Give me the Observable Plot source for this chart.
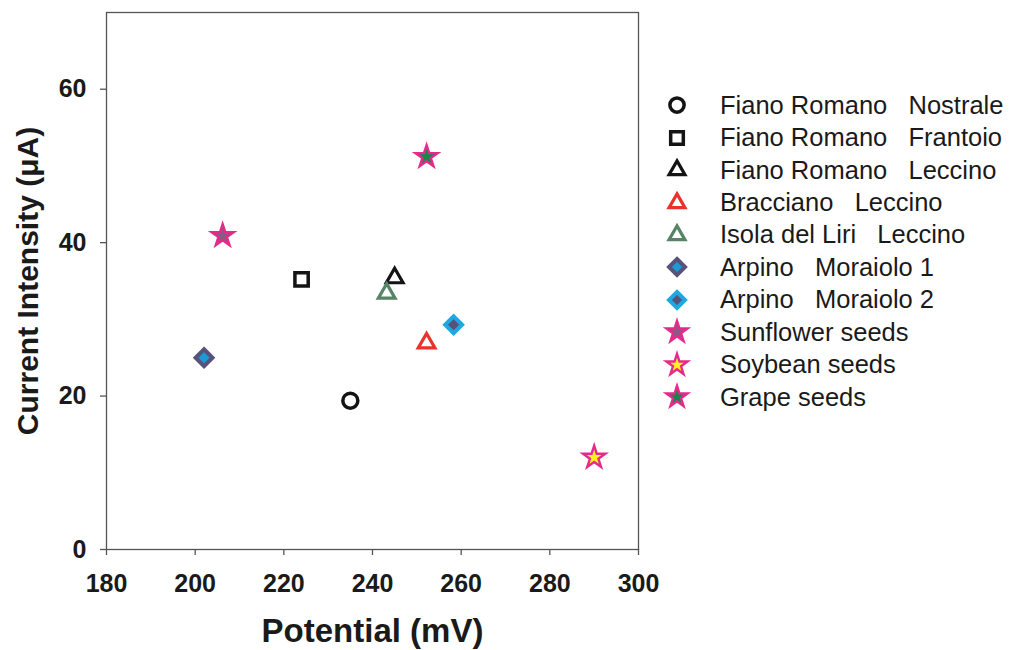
<!DOCTYPE html>
<html>
<head>
<meta charset="utf-8">
<script src="https://cdn.jsdelivr.net/npm/d3@7"></script>
<script src="https://cdn.jsdelivr.net/npm/@observablehq/plot@0.6"></script>
<style>
  html, body { margin: 0; padding: 0; background: #fff; }
  #wrap { position: relative; width: 1009px; height: 650px; font-family: "Liberation Sans", Arial, sans-serif; }
  #legend { position: absolute; left: 660px; top: 89px; }
  .row { display: flex; align-items: center; height: 32.45px; }
  .row svg { width: 34px; height: 32px; flex: none; }
  .row span { margin-left: 26px; font-size: 25.5px; color: #1a1a1a; white-space: pre; }
</style>
</head>
<body>
<div id="wrap"><div id="legend"></div></div>
<script>
// ---- data ----
const seriesNames = [
  "Fiano Romano   Nostrale",
  "Fiano Romano   Frantoio",
  "Fiano Romano   Leccino",
  "Bracciano   Leccino",
  "Isola del Liri   Leccino",
  "Arpino   Moraiolo 1",
  "Arpino   Moraiolo 2",
  "Sunflower seeds",
  "Soybean seeds",
  "Grape seeds"
];
const potentials = [235, 224, 245, 252.2, 243.2, 202, 258.3, 206.2, 290, 252.2];
const currents   = [19.4, 35.2, 35.4, 26.9, 33.4, 25.0, 29.3, 40.9, 12.0, 51.2];
const xTicks = [180, 200, 220, 240, 260, 280, 300];
const yTicks = [0, 20, 40, 60];
const xLabel = "Potential (mV)";
const yLabel = "Current Intensity (\u03bcA)";

// ---- styles (one per series) ----
const seriesStyles = [
  {symbol: "circle",   stroke: "#141414", fill: "#ffffff", sw: 3.5, r: 7.5},
  {symbol: "square",   stroke: "#141414", fill: "#ffffff", sw: 3.5, r: 7.5},
  {symbol: "triangle", stroke: "#141414", fill: "#ffffff", sw: 3.2, r: 6.2},
  {symbol: "triangle", stroke: "#e8322b", fill: "#ffffff", sw: 3.2, r: 6.2},
  {symbol: "triangle", stroke: "#578466", fill: "#ffffff", sw: 3.2, r: 6.2},
  {symbol: "diamond2", stroke: "#57527a", fill: "#1b9ad6", sw: 4,   r: 7.6},
  {symbol: "diamond2", stroke: "#1ea8e2", fill: "#57527a", sw: 4,   r: 7.6},
  {symbol: "star",     stroke: "#e8298c", fill: "#8a5a82", sw: 2.4, r: 7},
  {symbol: "star",     stroke: "#e8298c", fill: "#fff21f", sw: 2.4, r: 7},
  {symbol: "star",     stroke: "#e8298c", fill: "#14884a", sw: 2.4, r: 7}
];

const rows = seriesNames.map((name, i) => ({name, x: potentials[i], y: currents[i], i}));

const dotMarks = rows.map(d => {
  const s = seriesStyles[d.i];
  return Plot.dot([d], {x: "x", y: "y", symbol: s.symbol, r: s.r, stroke: s.stroke, fill: s.fill, strokeWidth: s.sw, strokeLinejoin: "miter"});
});

const chart = Plot.plot({
  width: 1009,
  height: 650,
  marginLeft: 106,
  marginRight: 371,
  marginTop: 12,
  marginBottom: 101,
  x: {domain: [180, 300]},
  y: {domain: [0, 70]},
  style: {fontFamily: "'Liberation Sans', Arial, sans-serif", fontSize: "25px", fontWeight: "bold", color: "#1a1a1a", background: "#fff"},
  marks: [
    Plot.frame({stroke: "#555", strokeWidth: 1.3}),
    Plot.axisX({ticks: xTicks, tickSize: 6, tickPadding: 19, label: null, stroke: "#555", strokeWidth: 1.3}),
    Plot.axisY({ticks: yTicks, tickSize: 6, tickPadding: 14, label: null, stroke: "#555", strokeWidth: 1.3}),
    Plot.text([xLabel], {frameAnchor: "bottom", dy: 92, fontSize: 33, fontWeight: "bold", lineAnchor: "bottom", text: d => d}),
    Plot.text([yLabel], {frameAnchor: "left", dx: -78, rotate: -90, textAnchor: "middle", fontSize: 30, fontWeight: "bold", text: d => d}),
    ...dotMarks
  ]
});
document.getElementById("wrap").prepend(chart);
chart.style.position = "absolute";
chart.style.left = "0";
chart.style.top = "0";

// ---- legend ----
const symMap = {circle: d3.symbolCircle, square: d3.symbolSquare, triangle: d3.symbolTriangle, diamond2: d3.symbolDiamond2, star: d3.symbolStar};
const legend = d3.select("#legend");
rows.forEach(d => {
  const s = seriesStyles[d.i];
  const row = legend.append("div").attr("class", "row");
  const svg = row.append("svg");
  const lr = s.r * 0.95;
  svg.append("path")
    .attr("transform", "translate(17,16)")
    .attr("d", d3.symbol(symMap[s.symbol], Math.PI * lr * lr)())
    .attr("fill", s.fill)
    .attr("stroke", s.stroke)
    .attr("stroke-width", s.sw);
  row.append("span").text(d.name);
});
</script>
</body>
</html>
